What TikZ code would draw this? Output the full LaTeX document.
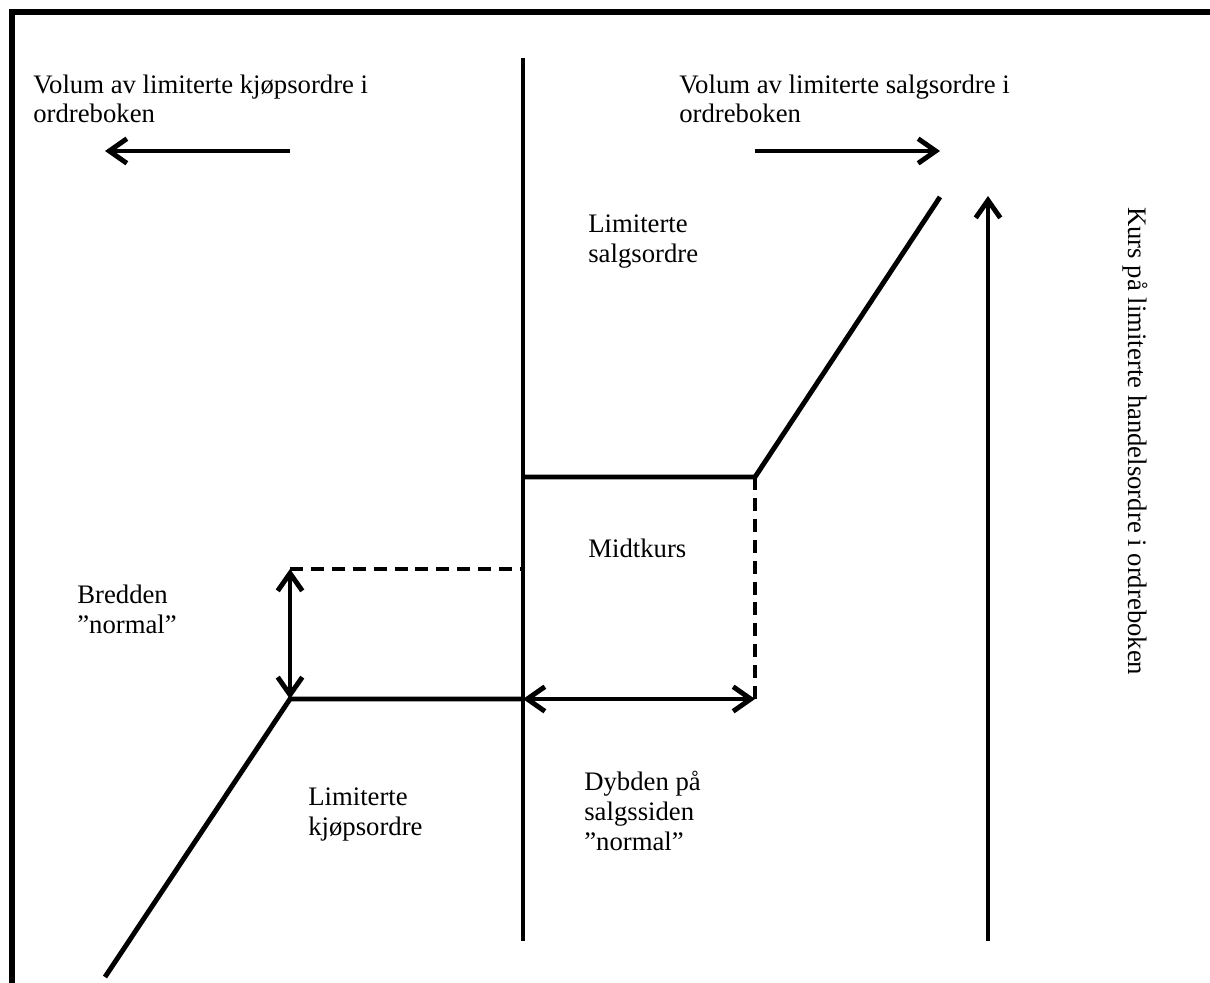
\documentclass[tikz,border=0pt]{standalone}
\usepackage{fontspec}
\setmainfont{Liberation Serif}
\usetikzlibrary{arrows.meta}

\begin{document}
\begin{tikzpicture}[x=0.02cm,y=-0.02cm,
    every node/.style={font=\fontsize{15.2}{17}\selectfont,inner sep=0pt,anchor=base west,align=left},
    line/.style={line width=2.8pt},
    dashline/.style={line width=2.8pt,dash pattern=on 7.4pt off 4.5pt},
    >={Straight Barb[length=10pt,width=14pt]}]
    \useasboundingbox (0,0) rectangle (1210,983);
    \coordinate (fb) at (12,983); \coordinate (fc) at (12,12); \coordinate (fr) at (1210,12);
    \draw[line width=3.2pt] (fb)--(fc)--(fr);
    \coordinate (midtop) at (523,58); \coordinate (midbot) at (523,941);
    \coordinate (kursbot) at (988,941); \coordinate (kurstop) at (988,196);
    \coordinate (kjopfra) at (290,151); \coordinate (kjoptil) at (105,151);
    \coordinate (salgfra) at (755,151); \coordinate (salgtil) at (940,151);
    \coordinate (askmid) at (523,477); \coordinate (ask) at (755,477); \coordinate (asktop) at (940,197);
    \coordinate (askfoot) at (755,699);
    \coordinate (bidend) at (105,977); \coordinate (bid) at (290,699); \coordinate (bidmid) at (523,699);
    \coordinate (bidhi) at (290,569); \coordinate (bidhimid) at (523,569);
    \draw[line] (midtop)--(midbot);
    \draw[line,->] (kursbot)--(kurstop);
    \draw[line,->] (kjopfra)--(kjoptil);
    \draw[line,->] (salgfra)--(salgtil);
    \draw[line] (askmid)--(ask)--(asktop);
    \draw[line] (bidend)--(bid)--(bidmid);
    \draw[line,<->] (bidmid)--(askfoot);
    \draw[line,<->] (bid)--(bidhi);
    \draw[dashline] (ask)--(askfoot);
    \draw[dashline] (bidhi)--(bidhimid);
    \node (volkjop) at (33,123) {Volum av limiterte kjøpsordre i\\ordreboken};
    \node (volsalg) at (679,123) {Volum av limiterte salgsordre i\\ordreboken};
    \node (limsalg) at (588,262) {Limiterte\\salgsordre};
    \node (midt) at (588,557) {Midtkurs};
    \node (bredde) at (77,633) {Bredden\\”normal”};
    \node (limkjop) at (308,835) {Limiterte\\kjøpsordre};
    \node (dybde) at (584,850) {Dybden på\\salgssiden\\”normal”};
    \node[rotate=-90] (kurs) at (1128,207) {Kurs på limiterte handelsordre i ordreboken};
\end{tikzpicture}
\end{document}
